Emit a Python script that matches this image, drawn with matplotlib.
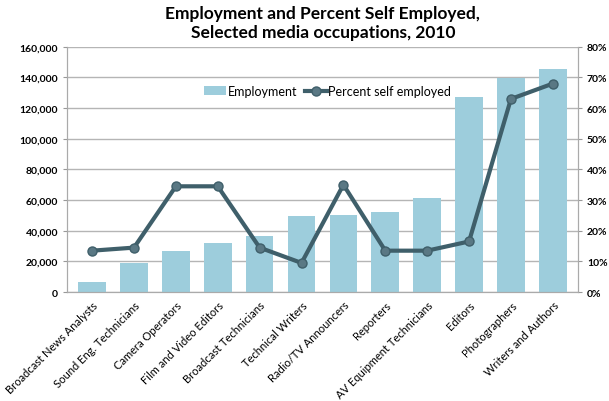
import matplotlib.pyplot as plt
from matplotlib.ticker import FuncFormatter

# occupations, employment count and share self employed (2010)
occupations = ['Broadcast News Analysts', 'Sound Eng. Technicians', 'Camera Operators',
               'Film and Video Editors', 'Broadcast Technicians', 'Technical Writers',
               'Radio/TV Announcers', 'Reporters', 'AV Equipment Technicians',
               'Editors', 'Photographers', 'Writers and Authors']
employment = [6500, 19000, 26800, 31800, 36600, 49400, 50200, 52000, 61200, 127300, 139500, 145600]
pct_self = [13.5, 14.5, 34.5, 34.5, 14.5, 9.5, 35.0, 13.5, 13.5, 16.5, 63.0, 68.0]

plt.rcParams['font.family'] = ['Lato', 'DejaVu Sans']

fig = plt.figure(figsize=(6.09, 4.02), dpi=100)
ax = fig.add_axes([0.11, 0.271, 0.839, 0.61])
x = range(len(occupations))

bars = ax.bar(x, employment, width=0.66, color='#9dcddc', label='Employment', zorder=2)
ax.set_ylim(0, 160000)
ax.set_xlim(-0.6, len(occupations) - 0.4)
ax.set_yticks(range(0, 160001, 20000))
ax.yaxis.set_major_formatter(FuncFormatter(lambda v, p: f'{int(v):,}'))
ax.grid(axis='y', color='#b5b5b5', lw=1, zorder=0)
ax.set_axisbelow(True)
ax.set_xticks(list(x))
ax.set_xticklabels(occupations, rotation=45, ha='right', rotation_mode='anchor', fontsize=8.0)
ax.tick_params(axis='x', length=0, pad=5)
ax.tick_params(axis='y', length=3, labelsize=7.5, color='#999999')
for lbl in ax.get_yticklabels():
    lbl.set_fontweight('bold')
for s in ['left', 'bottom', 'top', 'right']:
    ax.spines[s].set_color('#aaaaaa')
ax.spines['top'].set_visible(False)

ax2 = ax.twinx()
line, = ax2.plot(x, pct_self, color='#3f5f6a', lw=3, marker='o', ms=6.5,
                 markerfacecolor='#5a7884', markeredgecolor='#3f5f6a', label='Percent self employed', zorder=3)
ax2.set_ylim(0, 80)
ax2.set_yticks(range(0, 81, 10))
ax2.yaxis.set_major_formatter(FuncFormatter(lambda v, p: f'{int(v)}%'))
ax2.tick_params(axis='y', length=3, labelsize=7.5, color='#999999')
for lbl in ax2.get_yticklabels():
    lbl.set_fontweight('bold')
for s in ['left', 'bottom', 'top', 'right']:
    ax2.spines[s].set_color('#aaaaaa')
ax2.spines['top'].set_visible(False)

ax2.legend([bars, line], ['Employment', 'Percent self employed'], ncol=2, frameon=False,
           loc='center', bbox_to_anchor=(0.51, 0.82), fontsize=9, handlelength=1.8,
           handletextpad=0.1, columnspacing=0.6)

fig.text(0.53, 0.985, 'Employment and Percent Self Employed,\nSelected media occupations, 2010',
         ha='center', va='top', fontsize=12.5, fontweight='bold', linespacing=1.25)

fig.savefig('out.png', dpi=100)
